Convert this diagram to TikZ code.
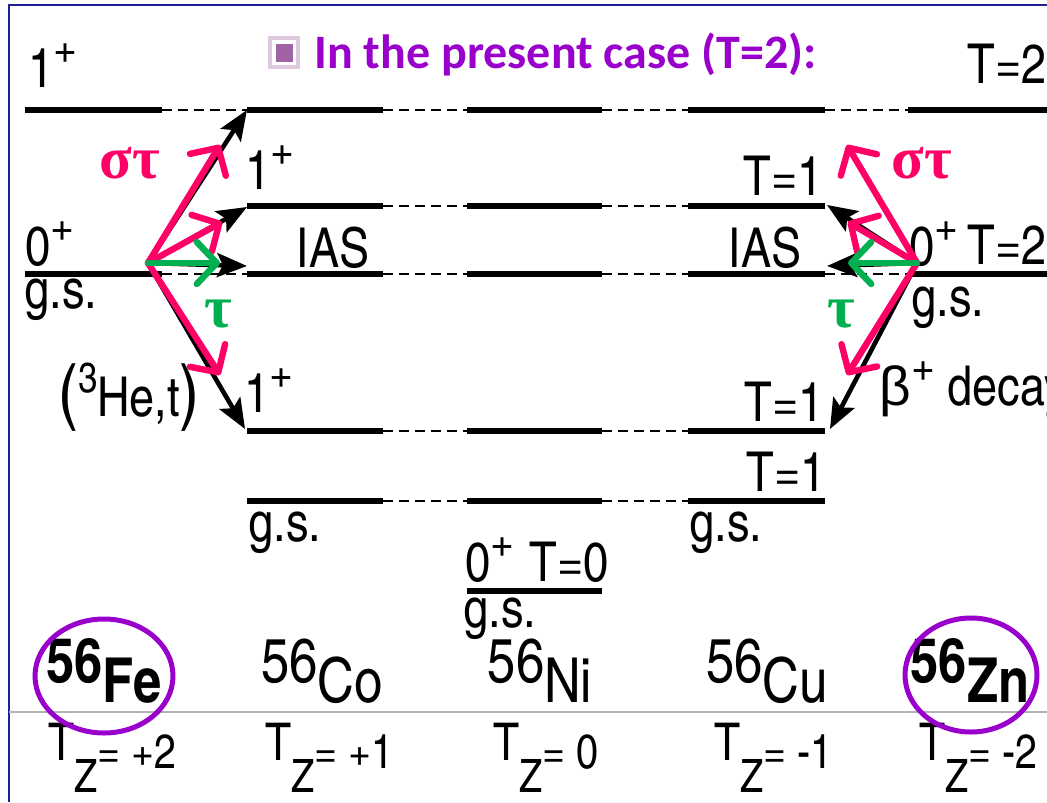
\documentclass[tikz,border=0pt]{standalone}
\usepackage{fontspec}
\setmainfont{Liberation Sans}
\newfontfamily\lab[Extension=.otf, UprightFont=*-regular, BoldFont=*-bold]{texgyreheroscn}
\newfontfamily\betafont{Liberation Sans}
\newfontfamily\titlefont{Carlito}
\newfontfamily\grk{Liberation Serif}
\usetikzlibrary{arrows.meta}
\definecolor{pk}{RGB}{255,0,102}
\definecolor{gn}{RGB}{0,176,80}
\definecolor{pu}{RGB}{153,0,204}
\definecolor{fr}{RGB}{30,30,150}
\definecolor{icn}{RGB}{160,100,165}
\newcommand{\plusup}{\raisebox{11pt}{\fontsize{25}{25}\selectfont +}}
\newcommand{\tz}[1]{T\raisebox{-16pt}{\fontsize{23}{23}\selectfont Z}\raisebox{-4pt}{\fontsize{24}{24}\selectfont= #1}}
\begin{document}
\begin{tikzpicture}[x=0.5pt,y=-0.5pt,
  lvl/.style={line width=3.3pt},
  dsh/.style={line width=1.2pt, dash pattern=on 5pt off 3pt},
  blk/.style={line width=2.3pt, -{Stealth[length=15pt,width=12pt,inset=3pt]}},
  pka/.style={draw=pk, line width=3.2pt, line cap=round, -{Straight Barb[length=10pt,width=21pt,round]}},
  gna/.style={draw=gn, line width=3.2pt, line cap=round, -{Straight Barb[length=10pt,width=21pt,round]}},
  lbl/.style={inner sep=0pt, anchor=base west, font={\lab\fontsize{27.5}{32}\selectfont}},
  lblr/.style={lbl, anchor=base east},
  lblc/.style={lbl, anchor=base},
  nuc/.style={inner sep=0pt, anchor=base, font={\lab\fontsize{31}{34}\selectfont}},
  tzl/.style={inner sep=0pt, anchor=base, font={\lab\fontsize{26}{30}\selectfont}},
  grl/.style={inner sep=0pt, anchor=base west, font={\grk\bfseries\fontsize{30}{34}\selectfont}}]
\useasboundingbox (0,0) rectangle (1047,802);
\fill[white] (0,0) rectangle (1047,802);
% frame
\draw[fr, line width=1pt] (9,802) -- (9,5) -- (1047,5);
% column x extents
\foreach \n/\l/\r in {fe/25/162, co/247/383, ni/467/602, cu/688/825, zn/908/1047}{
  \coordinate (\n L) at (\l,0); \coordinate (\n R) at (\r,0);}
% rows
\foreach \rw/\yy in {A/110, B/206, C/274, D/431, E/501, F/591}{
  \coordinate (row\rw) at (0,\yy);}
% level lines
\foreach \rw/\cols in {A/{fe,co,ni,cu,zn}, B/{co,ni,cu}, C/{fe,co,ni,cu,zn}, D/{co,ni,cu}, E/{co,ni,cu}}{
  \foreach \c in \cols {
    \draw[lvl] (\c L |- row\rw) -- (\c R |- row\rw);}}
\draw[lvl] (niL |- rowF) -- (niR |- rowF);
% dashed connections
\foreach \rw/\pairs in {A/{fe/co,co/ni,ni/cu,cu/zn}, B/{co/ni,ni/cu}, C/{fe/co,co/ni,ni/cu,cu/zn}, D/{co/ni,ni/cu}, E/{co/ni,ni/cu}}{
  \foreach \a/\b in \pairs {
    \draw[dsh] (\a R |- row\rw) -- (\b L |- row\rw);}}
% gray baseline
\draw[gray!60, line width=1pt] (9,712) -- (1047,712);
% title
\fill[icn!35] (268,36) rectangle (300,69);
\fill[white] (272,40) rectangle (296,65);
\fill[icn] (276,44) rectangle (293,62);
\node[inner sep=0pt, anchor=base west, text=pu, font={\titlefont\bfseries\fontsize{24}{28}\selectfont}] (title) at (314,69) {In the present case (T=2):};
% labels
\node[lbl] (l1a) at (28,88) {1\plusup};
\node[lblr] (t2a) at (1047,84) {T=2};
\node[lbl] (l1b) at (245,190) {1\plusup};
\node[lbl] (l0fe) at (25,265) {0\plusup};
\node[lbl] (gsfe) at (24,308) {g.s.};
\node[lblc] (iasco) at (333,267) {IAS};
\node[lblc] (iascu) at (765,267) {IAS};
\node[lblr] (t1a) at (823,195) {T=1};
\node[lbl] (l0zn) at (909,265) {0\plusup};
\node[lblr] (t2b) at (1047,264) {T=2};
\node[lbl] (gszn) at (911,316) {g.s.};
\node[lbl] (het) at (58,416) {{\fontsize{36}{36}\selectfont(}\raisebox{12pt}{\fontsize{21}{21}\selectfont 3}He,t{\fontsize{36}{36}\selectfont)}};
\node[lbl] (l1c) at (244,412) {1\plusup};
\node[lbl] (beta) at (879,405) {{\betafont β}\plusup\ decay};
\node[lblr] (t1b) at (824,421) {T=1};
\node[lblr] (t1c) at (826,491) {T=1};
\node[lbl] (gsco) at (248,541) {g.s.};
\node[lbl] (gscu) at (689,541) {g.s.};
\node[lbl] (l0ni) at (465,581) {0\plusup};
\node[lblr] (t0) at (609,581) {T=0};
\node[lbl] (gsni) at (463,627) {g.s.};
% nuclides
\node[nuc] (fe) at (104,702) {\bfseries\raisebox{10pt}{56}Fe};
\node[nuc] (co) at (322,702) {\raisebox{10pt}{56}Co};
\node[nuc] (ni) at (540,702) {\raisebox{10pt}{56}Ni};
\node[nuc] (cu) at (767,702) {\raisebox{10pt}{56}Cu};
\node[nuc] (zn) at (970,702) {\bfseries\raisebox{10pt}{56}Zn};
\node[tzl] (tzfe) at (112,760) {\tz{+2}};
\node[tzl] (tzco) at (329,760) {\tz{+1}};
\node[tzl] (tzni) at (546,760) {\tz{0}};
\node[tzl] (tzcu) at (773,760) {\tz{-1}};
\node[tzl] (tzzn) at (978,760) {\tz{-2}};
\draw[pu, line width=2.5pt] (104,676) ellipse [x radius=34.5pt, y radius=28.5pt];
\draw[pu, line width=2.5pt] (971,675) ellipse [x radius=33pt, y radius=28.5pt];
% arrow coordinates
\coordinate (oL) at (148,263);
\coordinate (oR) at (917,263);
\coordinate (bLA) at (247,110);
\coordinate (bLB) at (247,207);
\coordinate (bLC) at (247,266);
\coordinate (bLD) at (245,429);
\coordinate (bRB) at (827,205);
\coordinate (bRC) at (827,266);
\coordinate (bRD) at (830,429);
\coordinate (pLA) at (220,145);
\coordinate (pLB) at (222,222);
\coordinate (pLD) at (220,375);
\coordinate (gL) at (220,263);
\coordinate (pRA) at (847,145);
\coordinate (pRB) at (848,222);
\coordinate (pRD) at (847,375);
\coordinate (gR) at (848,263);
% black arrows
\foreach \t in {bLA,bLB,bLC,bLD}{\draw[blk] (oL) -- (\t);}
\foreach \t in {bRB,bRC,bRD}{\draw[blk] (oR) -- (\t);}
% pink arrows
\foreach \t in {pLA,pLB,pLD}{\draw[pka] (oL) -- (\t);}
\foreach \t in {pRA,pRB,pRD}{\draw[pka] (oR) -- (\t);}
% green arrows
\draw[gna] (oL) -- (gL);
\draw[gna] (oR) -- (gR);
% greek labels
\node[grl, text=pk] (stL) at (99,178) {στ};
\node[grl, text=pk] (stR) at (891,178) {στ};
\node[grl, text=gn] (tL) at (204,327) {τ};
\node[grl, text=gn] (tR) at (827,327) {τ};
\end{tikzpicture}
\end{document}
